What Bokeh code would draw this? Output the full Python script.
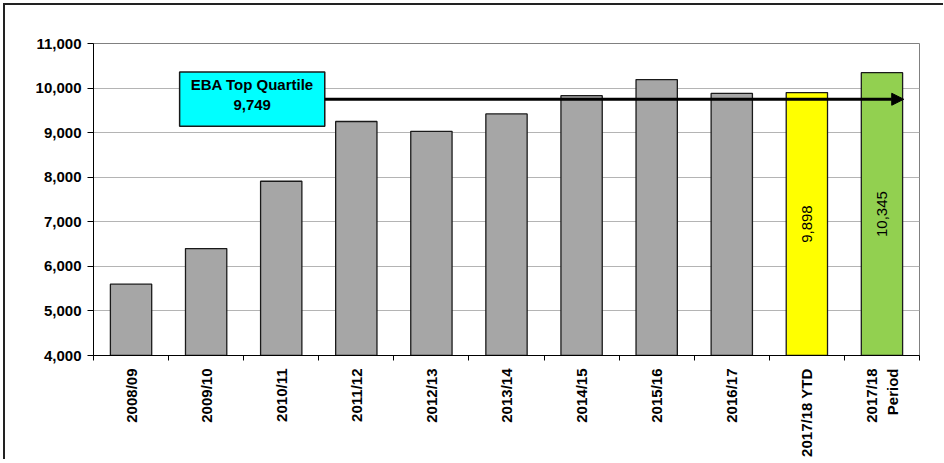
import math
from bokeh.plotting import figure
from bokeh.models import (Range1d, FixedTicker, LinearAxis, NumeralTickFormatter,
                          Arrow, NormalHead, ColumnDataSource)
from bokeh.core.properties import value
from bokeh.embed import file_html
from bokeh.resources import INLINE

# ---- data ----
categories = ["2008/09", "2009/10", "2010/11", "2011/12", "2012/13", "2013/14",
              "2014/15", "2015/16", "2016/17", "2017/18 YTD", "2017/18\nPeriod"]
values = [5600, 6400, 7910, 9250, 9030, 9420, 9830, 10190, 9880, 9898, 10345]
bar_colors = ["#A6A6A6"] * 9 + ["#FFFF00", "#92D050"]
labelled = ["", "", "", "", "", "", "", "", "", "9,898", "10,345"]
eba_value = 9749
eba_label = "EBA Top Quartile\n9,749"
y_ticks = [4000, 5000, 6000, 7000, 8000, 9000, 10000, 11000]

FONT = "Liberation Sans"
y_min, y_max = 4000, 11000
n = len(categories)
centers = [i + 0.5 for i in range(n)]

p = figure(frame_width=826, frame_height=312, output_backend="svg", toolbar_location=None,
           x_range=Range1d(0, n), y_range=Range1d(y_min, y_max),
           min_border_left=88, min_border_right=24, min_border_top=38,
           min_border_bottom=10)
p.styles = {"border-left": "2px solid #222", "border-top": "2px solid #222",
            "margin-left": "3px", "margin-top": "3px"}
p.background_fill_color = "white"
p.border_fill_color = "white"
p.outline_line_color = "#808080"
p.outline_line_width = 1

# grid
p.xgrid.grid_line_color = None
p.ygrid.grid_line_color = "#B4B4B4"
p.ygrid.grid_line_width = 1

# y axis
p.yaxis.ticker = FixedTicker(ticks=y_ticks)
p.yaxis.formatter = NumeralTickFormatter(format="0,0")
p.yaxis.axis_line_color = "black"
p.yaxis.major_tick_line_color = "black"
p.yaxis.major_tick_out = 6
p.yaxis.major_tick_in = 0
p.yaxis.minor_tick_line_color = None
p.yaxis.major_label_standoff = 6
p.yaxis.major_label_text_font = FONT
p.yaxis.major_label_text_font_style = "bold"
p.yaxis.major_label_text_font_size = "15px"
p.yaxis.major_label_text_color = "black"

# x axis: tick marks at category boundaries
xa = p.xaxis[0]
xa.ticker = FixedTicker(ticks=list(range(n + 1)))
xa.major_label_overrides = {i: "" for i in range(n + 1)}
xa.major_label_text_font_size = "1px"
xa.major_label_standoff = 0
xa.major_tick_out = 5
xa.major_tick_in = 0
xa.minor_tick_line_color = None
xa.axis_line_color = "black"
xa.major_tick_line_color = "black"

# x axis labels at centers
xl = LinearAxis(ticker=FixedTicker(ticks=centers),
                major_label_overrides={c: cat for c, cat in zip(centers, categories)})
xl.axis_line_color = None
xl.major_tick_line_color = None
xl.minor_tick_line_color = None
xl.major_label_orientation = math.pi / 2
xl.major_label_standoff = 2
xl.major_label_text_font = FONT
xl.major_label_text_font_style = "bold"
xl.major_label_text_font_size = "15px"
xl.major_label_text_color = "black"
p.add_layout(xl, "below")

# bars
src = ColumnDataSource(dict(x=centers, top=values, color=bar_colors,
                            mid=[(y_min + v) / 2 for v in values], lab=labelled))
p.vbar(x="x", top="top", bottom=y_min, width=0.55, source=src,
       fill_color="color", line_color="#1a1a1a", line_width=1.3)

# value labels inside the last two bars
p.text(x="x", y="mid", text="lab", source=src, angle=math.pi / 2,
       text_align="center", text_baseline="middle",
       text_font=value(FONT), text_font_size="15px", text_color="black")

# EBA benchmark arrow and box
box_left, box_right = 1.147, 3.08
p.add_layout(Arrow(x_start=box_right, y_start=eba_value, x_end=n - 0.21, y_end=eba_value,
                   line_width=3, line_color="black",
                   end=NormalHead(size=12, fill_color="black", line_color="black")))
p.quad(left=[box_left], right=[box_right], top=[10360], bottom=[9146],
       fill_color="#00FFFF", line_color="#1a1a1a", line_width=1.5)
p.text(x=[(box_left + box_right) / 2], y=[9850], text=[eba_label],
       text_align="center", text_baseline="middle", text_line_height=1.15,
       text_font=value(FONT), text_font_style="bold", text_font_size="15px",
       text_color="black")

open("out.html", "w").write(file_html(p, INLINE))
